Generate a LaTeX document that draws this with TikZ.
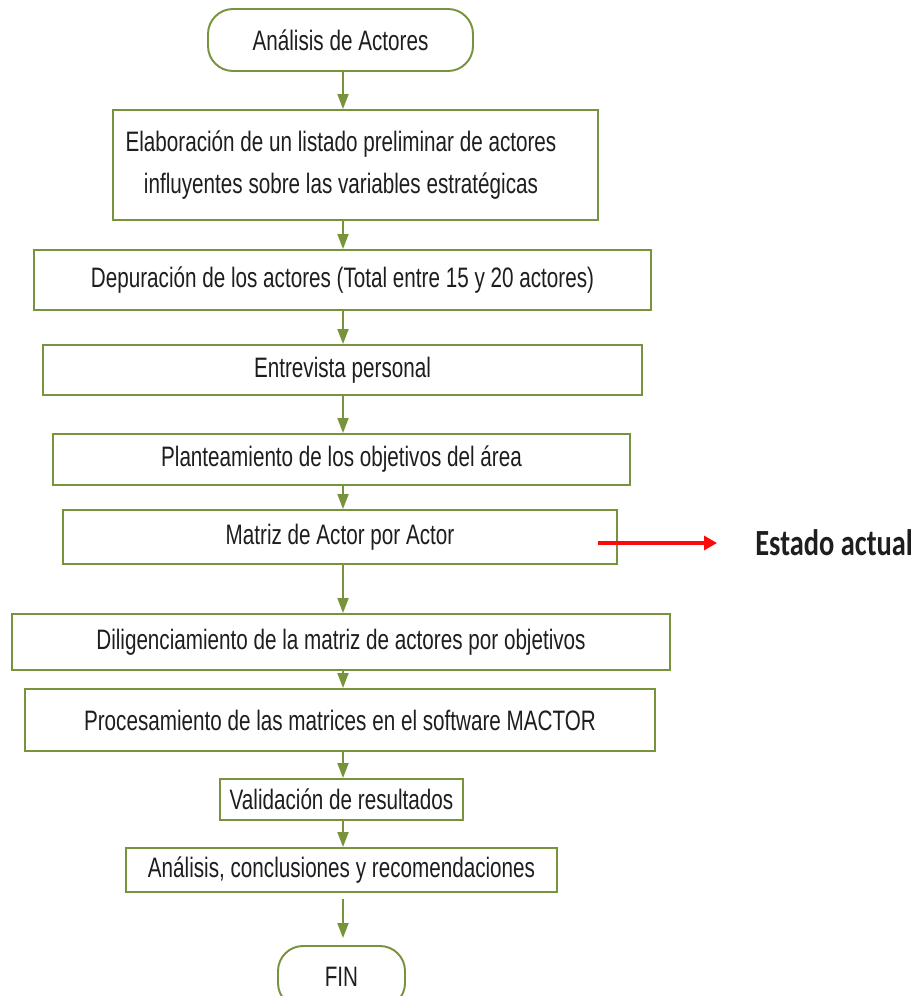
\documentclass[tikz,border=0pt]{standalone}
\usepackage{fontspec}
\setmainfont{Liberation Sans}[FakeStretch=0.735]
\newfontfamily\estadofont{Carlito}[FakeStretch=0.77]
\usetikzlibrary{arrows.meta}
\definecolor{verde}{RGB}{119,147,60}
\definecolor{rojo}{RGB}{250,10,10}
\definecolor{texto}{RGB}{30,30,30}

\begin{document}
\begin{tikzpicture}[x=0.2mm, y=-0.2mm,
  paso/.style={draw=verde, line width=1.1pt, fill=white, text=texto, font=\fontsize{16pt}{24pt}\selectfont, align=center, inner sep=0pt},
  terminal/.style={paso, rounded corners=5mm},
  flecha/.style={draw=verde, line width=1.1pt, -{Triangle[width=2.2mm,length=3mm]}}]
  % Page frame (920 x 996 px)
  \clip (0,0) rectangle (920,996);
  \coordinate (eje) at (343,0);

  % Steps of the actor analysis
  \node[terminal, minimum width=53mm, minimum height=12.4mm] (inicio) at (340.5,40) {Análisis de Actores};
  \node[paso, minimum width=97mm, minimum height=22mm] (elab) at (355.5,165) {};
  \node[text=texto, font=\fontsize{16pt}{24pt}\selectfont, align=center, inner sep=0pt] (elabtexto) at (341,165) {Elaboración de un listado preliminar de actores\\influyentes sobre las variables estratégicas};
  \node[paso, minimum width=123.4mm, minimum height=12mm] (depur) at (342.5,280) {Depuración de los actores (Total entre 15 y 20 actores)};
  \node[paso, minimum width=119.8mm, minimum height=10mm] (entre) at (342.5,370) {Entrevista personal};
  \node[paso, minimum width=115.4mm, minimum height=10.2mm] (plant) at (341.5,459.5) {Planteamiento de los objetivos del área};
  \node[paso, minimum width=110.8mm, minimum height=10.8mm] (matriz) at (340,537) {Matriz de Actor por Actor};
  \node[paso, minimum width=131.6mm, minimum height=11.2mm] (dilig) at (341,642) {Diligenciamiento de la matriz de actores por objetivos};
  \node[paso, minimum width=126mm, minimum height=12.4mm] (proces) at (340,720) {Procesamiento de las matrices en el software MACTOR};
  \node[paso, minimum width=48.6mm, minimum height=8.2mm] (valid) at (341.5,799.5) {Validación de resultados};
  \node[paso, minimum width=86.2mm, minimum height=8.8mm] (anali) at (341.5,870) {Análisis, conclusiones y recomendaciones};
  \node[terminal, minimum width=25.4mm, minimum height=12.4mm] (fin) at (341.5,977) {FIN};

  % Vertical flow
  \draw[flecha] (eje |- inicio.south) -- (eje |- elab.north);
  \draw[flecha] (eje |- elab.south) -- (eje |- depur.north);
  \draw[flecha] (eje |- depur.south) -- (eje |- entre.north);
  \draw[flecha] (eje |- entre.south) -- (eje |- plant.north);
  \draw[flecha] (eje |- plant.south) -- (eje |- matriz.north);
  \draw[flecha] (eje |- matriz.south) -- (eje |- dilig.north);
  \draw[flecha] (eje |- dilig.south) -- (eje |- proces.north);
  \draw[flecha] (eje |- proces.south) -- (eje |- valid.north);
  \draw[flecha] (eje |- valid.south) -- (eje |- anali.north);
  \draw[flecha, shorten <=1.2mm, shorten >=1.4mm] (eje |- anali.south) -- (eje |- fin.north);

  % Current state marker
  \coordinate (rojoini) at (598,543);
  \node[font=\estadofont\bfseries\fontsize{21pt}{25pt}\selectfont, text=texto, anchor=west, inner sep=0pt] (estado) at (755,543) {Estado actual};
  \draw[rojo, line width=2pt, -{Triangle[width=2.8mm,length=2.6mm]}, shorten >=7.6mm] (rojoini) -- (estado.west);
\end{tikzpicture}
\end{document}
